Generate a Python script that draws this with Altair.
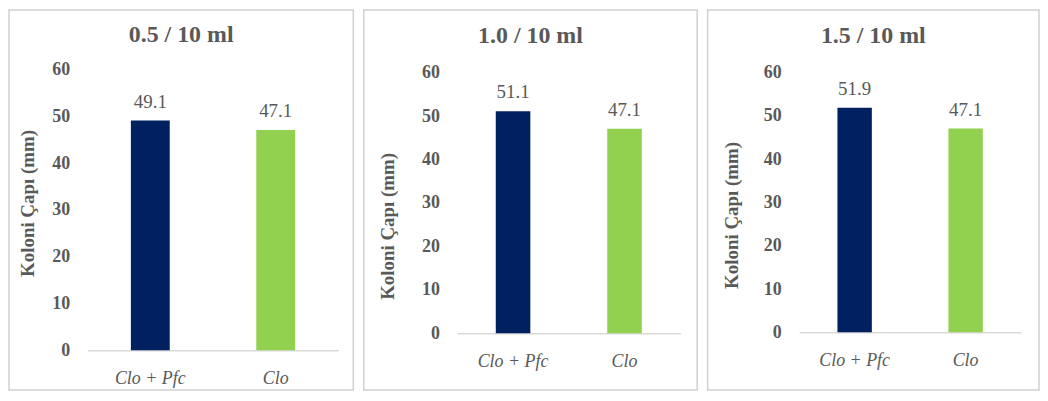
import altair as alt
import pandas as pd

# ---- data ----
panel_titles = ["0.5 / 10 ml", "1.0 / 10 ml", "1.5 / 10 ml"]
groups = ["Clo + Pfc", "Clo"]
values_05 = [49.1, 47.1]
values_10 = [51.1, 47.1]
values_15 = [51.9, 47.1]
bar_colors = ["#002060", "#92D050"]
y_title = "Koloni Çapı (mm)"

FONT = "Liberation Serif"
GRAY = "#595959"
BORDER = "#d0d0d0"

# layout per panel: plot width/height and margins inside the framed box.
# All panels share the same top margin so that the frames line up; 'lift'
# moves the top of the value scale above the plot origin where needed.
layouts = [
    dict(w=252, h=279, lift=3, left=79, right=15, top=63, bottom=40, tx=-60, ty=131, tb=32),
    dict(w=224, h=262, lift=0, left=94, right=17, top=63, bottom=57, tx=-70, ty=154, tb=33),
    dict(w=223, h=261, lift=0, left=92, right=18, top=63, bottom=58, tx=-68, ty=143, tb=33),
]


def panel(title, values, lay):
    df = pd.DataFrame({"group": groups, "value": values})
    x = alt.X(
        "group:N",
        sort=groups,
        scale=alt.Scale(paddingInner=0.69, paddingOuter=0.345),
        axis=alt.Axis(
            title=None,
            labelAngle=0,
            labelFont=FONT,
            labelFontSize=18,
            labelFontStyle="italic",
            labelColor=GRAY,
            labelPadding=19,
            ticks=False,
            domainColor="#d9d9d9",
            domainWidth=1.5,
            grid=False,
        ),
    )
    y = alt.Y(
        "value:Q",
        scale=alt.Scale(domain=[0, 60], nice=False, range=[lay["h"], -lay["lift"]]),
        axis=alt.Axis(
            title=y_title,
            titleFont=FONT,
            titleFontSize=19,
            titleFontWeight="bold",
            titleColor=GRAY,
            titleX=lay["tx"],
            titleY=lay["ty"],
            titleAngle=270,
            titleBaseline="middle",
            titleAlign="center",
            values=[0, 10, 20, 30, 40, 50, 60],
            labelFont=FONT,
            labelFontSize=18,
            labelFontWeight="bold",
            labelColor=GRAY,
            labelPadding=18,
            ticks=False,
            domain=False,
            grid=False,
        ),
    )
    bars = alt.Chart(df).mark_bar().encode(
        x=x,
        y=y,
        color=alt.Color("group:N", sort=groups,
                        scale=alt.Scale(domain=groups, range=bar_colors),
                        legend=None),
    )
    labels = alt.Chart(df).mark_text(
        font=FONT, fontSize=19, color=GRAY, baseline="alphabetic", dy=-13
    ).encode(
        x=alt.X("group:N", sort=groups),
        y="value:Q",
        text=alt.Text("value:Q", format=".1f"),
    )
    frame_df = pd.DataFrame({"title": [title]})
    frame = alt.Chart(frame_df).mark_rect(
        fill="white", fillOpacity=0, stroke=BORDER, strokeWidth=1.5
    ).encode(
        x=alt.value(-lay["left"]),
        x2=alt.value(lay["w"] + lay["right"]),
        y=alt.value(-lay["top"]),
        y2=alt.value(lay["h"] + lay["bottom"]),
    )
    head = alt.Chart(frame_df).mark_text(
        font=FONT, fontSize=24, fontWeight="bold", color=GRAY,
        align="center", baseline="alphabetic",
    ).encode(
        x=alt.value((-lay["left"] + lay["w"] + lay["right"]) / 2),
        y=alt.value(-lay["top"] + lay["tb"]),
        text="title:N",
    )
    return alt.layer(frame, head, bars, labels).properties(
        width=lay["w"],
        height=lay["h"],
    )


chart = alt.hconcat(
    panel(panel_titles[0], values_05, layouts[0]),
    panel(panel_titles[1], values_10, layouts[1]),
    panel(panel_titles[2], values_15, layouts[2]),
    spacing=8.5,
).properties(
    padding=0,
    background="white",
).configure_view(stroke=None).configure_concat(spacing=8.5)

chart.save("out.html", embed_options={"renderer": "svg", "actions": False})
